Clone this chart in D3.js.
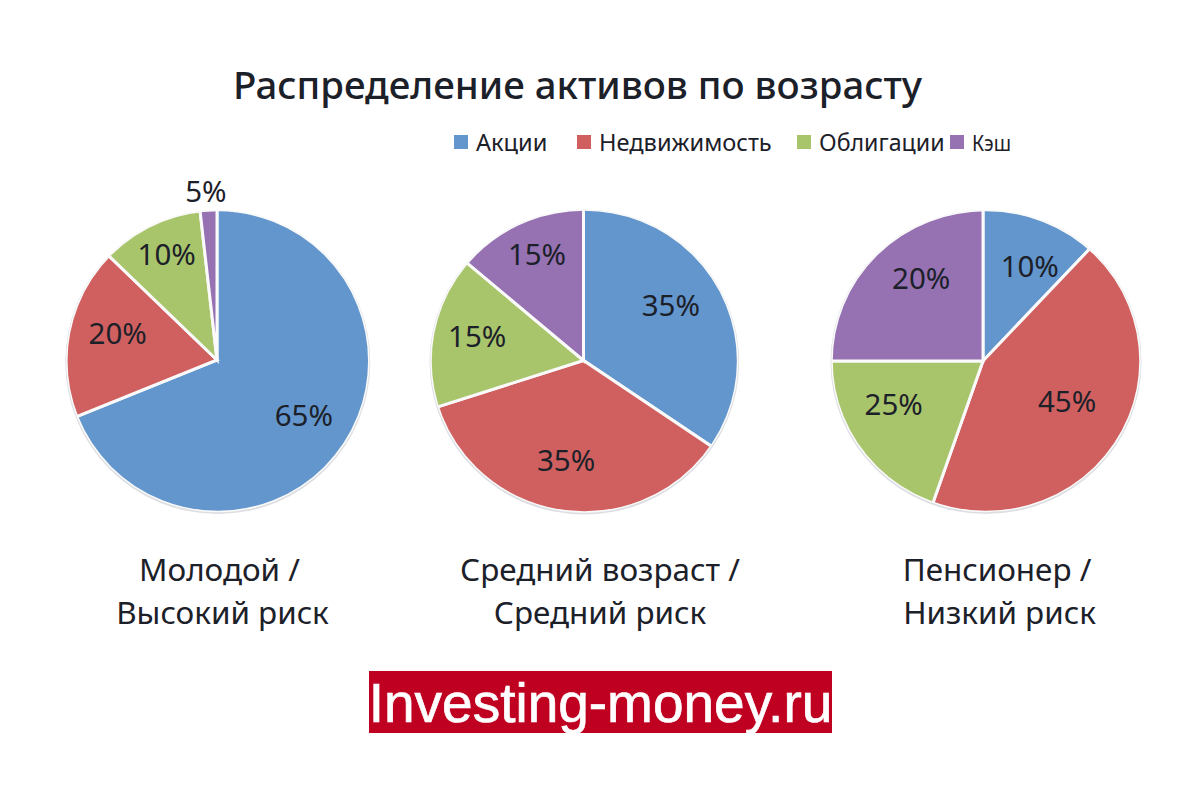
<!DOCTYPE html>
<html>
<head>
	<meta charset="utf-8">
	<script src="https://cdn.jsdelivr.net/npm/d3@7/dist/d3.min.js"></script>
	<style>
		html, body {
			padding: 0;
			margin: 0;
			background: #fff;
		}
		text { font-family: "Noto Sans", sans-serif; fill: #1c2029; }
	</style>
</head>
<body>
	<script>
		var width = 1200, height = 802;

		var assets = ['Акции', 'Недвижимость', 'Облигации', 'Кэш'];
		var assetColors = ['#6396cc', '#d0605f', '#a9c56c', '#9672b3'];

		// slice shares as drawn in the picture, they differ from the printed labels
		var youngShares = [68.9, 18.3, 11.0, 1.8];
		var middleShares = [34.4, 35.7, 16.0, 13.9];
		var seniorShares = [12.1, 43.3, 19.6, 25.0];

		var youngLabels = ['65%', '20%', '10%', '5%'];
		var middleLabels = ['35%', '35%', '15%', '15%'];
		var seniorLabels = ['10%', '45%', '25%', '20%'];

		var pieNames = [
			['Молодой /', 'Высокий риск'],
			['Средний возраст /', 'Средний риск'],
			['Пенсионер /', 'Низкий риск']
		];

		var svg = d3.select('body').append('svg')
			.attr('width', width)
			.attr('height', height)
			.style('display', 'block');

		var defs = svg.append('defs');

		svg.append('text')
			.attr('x', 577.5).attr('y', 99)
			.attr('text-anchor', 'middle')
			.style('font-size', '38.4px')
			.style('font-weight', 500)
			.text('Распределение активов по возрасту');

		// legend
		var legendX = [454, 577, 797, 950];
		var legendSize = [23.6, 23.6, 23.2, 22];
		assets.forEach(function(name, i) {
			svg.append('rect')
				.attr('x', legendX[i]).attr('y', 135)
				.attr('width', 14).attr('height', 14)
				.attr('fill', assetColors[i]);
			var label = svg.append('text')
				.attr('x', legendX[i] + 22).attr('y', 150.5)
				.style('font-size', legendSize[i] + 'px')
				.text(name);
			// the last entry is squeezed in the original
			if (i == 3) label.attr('textLength', 39).attr('lengthAdjust', 'spacingAndGlyphs');
		});

		var pie = d3.pie().sort(null).value(function(d) { return d; });
		var labelRadius = 91;

		// the outline is a slightly squashed ellipse and its centre is not the apex,
		// so wedges are drawn too long and clipped to the outline
		function drawPie(id, apex, outline, shares, labels, nudges, names, nameX) {
			defs.append('clipPath').attr('id', id)
				.append('ellipse')
				.attr('cx', outline[0]).attr('cy', outline[1])
				.attr('rx', outline[2]).attr('ry', outline[3]);

			svg.append('ellipse')
				.attr('cx', outline[0]).attr('cy', outline[1] + 1)
				.attr('rx', outline[2] + 1.5).attr('ry', outline[3] + 1.5)
				.attr('fill', '#dcdee2');

			var arc = d3.arc().innerRadius(0).outerRadius(200);
			var arcs = pie(shares);

			svg.append('g').attr('clip-path', 'url(#' + id + ')')
				.append('g').attr('transform', 'translate(' + apex[0] + ',' + apex[1] + ')')
				.selectAll('path').data(arcs).enter().append('path')
				.attr('d', arc)
				.attr('fill', function(d, i) { return assetColors[i]; })
				.attr('stroke', '#fafafa')
				.attr('stroke-width', 3);

			svg.append('ellipse')
				.attr('cx', outline[0]).attr('cy', outline[1])
				.attr('rx', outline[2]).attr('ry', outline[3])
				.attr('fill', 'none')
				.attr('stroke', '#fafafa')
				.attr('stroke-width', 1.5);

			svg.append('g').selectAll('text').data(arcs).enter().append('text')
				.attr('text-anchor', 'middle')
				.attr('x', function(d, i) {
					var a = (d.startAngle + d.endAngle) / 2;
					return apex[0] + Math.sin(a) * labelRadius + nudges[i][0];
				})
				.attr('y', function(d, i) {
					var a = (d.startAngle + d.endAngle) / 2;
					return apex[1] - Math.cos(a) * labelRadius + nudges[i][1];
				})
				.style('font-size', '29.5px')
				.text(function(d, i) { return labels[i]; });

			names.forEach(function(line, i) {
				svg.append('text')
					.attr('x', nameX[i]).attr('y', 581 + i * 43)
					.attr('text-anchor', 'middle')
					.style('font-size', '31.4px')
					.text(line);
			});
		}

		drawPie('young', [217, 360], [217.8, 361, 151, 150.5], youngShares, youngLabels,
			[[11.4, 15], [-10, 1], [-10, -13], [-6, -67]], pieNames[0], [219.5, 222.5]);
		drawPie('middle', [583.5, 360.5], [584.3, 361, 153.3, 151], middleShares, middleLabels,
			[[7, -1.5], [-4.6, 20], [-17, 4], [-8, -13]], pieNames[1], [600, 600]);
		drawPie('senior', [983, 361], [986, 361, 154, 150.5], seniorShares, seniorLabels,
			[[13, 1], [6.5, 3], [-15, 1.5], [2.5, -7.5]], pieNames[2], [997, 999.5]);

		// site banner
		svg.append('rect')
			.attr('x', 369).attr('y', 671)
			.attr('width', 463).attr('height', 62)
			.attr('fill', '#c00020');
		svg.append('text')
			.attr('x', 600.5).attr('y', 722)
			.attr('text-anchor', 'middle')
			.style('font-family', '"Liberation Sans", sans-serif')
			.style('font-size', '55px')
			.style('fill', '#fff')
			.style('stroke', '#fff')
			.style('stroke-width', 0.7)
			.text('Investing-money.ru');
	</script>
</body>
</html>
